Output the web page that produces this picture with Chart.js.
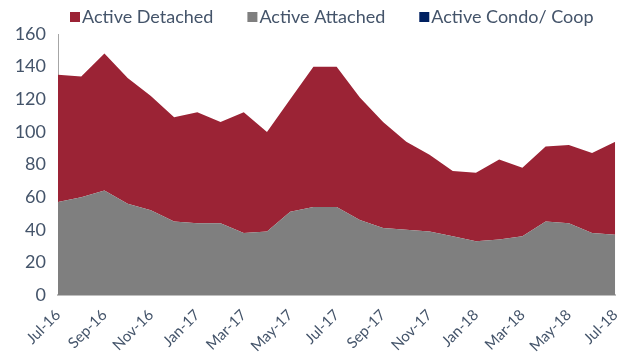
<!DOCTYPE html>
<html>
<head>
<meta charset="utf-8">
<script src="https://cdn.jsdelivr.net/npm/chart.js@4"></script>
<style>
  html, body { margin: 0; padding: 0; background: #fff; }
  #wrap { width: 631px; height: 353px; }
</style>
</head>
<body>
<div id="wrap"><canvas id="inventoryChart" width="631" height="353"></canvas></div>
<script>
const months = ['Jul-16', 'Aug-16', 'Sep-16', 'Oct-16', 'Nov-16', 'Dec-16', 'Jan-17', 'Feb-17', 'Mar-17',
    'Apr-17', 'May-17', 'Jun-17', 'Jul-17', 'Aug-17', 'Sep-17', 'Oct-17', 'Nov-17', 'Dec-17',
    'Jan-18', 'Feb-18', 'Mar-18', 'Apr-18', 'May-18', 'Jun-18', 'Jul-18'];
const attached = [57, 60, 64, 56, 52, 45, 44, 44, 38, 39, 51, 54, 54, 46, 41, 40, 39, 36, 33, 34, 36, 45, 44, 38, 37];
const detached = [78, 74, 84, 77, 70, 64, 68, 62, 74, 61, 69, 86, 86, 75, 65, 54, 47, 40, 42, 49, 42, 46, 48, 49, 57];
const condo = [0, 0, 0, 0, 0, 0, 0, 0, 0, 0, 0, 0, 0, 0, 0, 0, 0, 0, 0, 0, 0, 0, 0, 0, 0];
const legendOrder = ['Active Detached', 'Active Attached', 'Active Condo/ Coop'];

const textColor = '#44546a';
const fontFamily = 'Lato, Roboto, sans-serif';

// legend drawn by hand: square marker right against the text, wide gaps between items
const legendPlugin = {
    id: 'squareLegend',
    afterDraw(chart) {
        const c = chart.ctx;
        const items = legendOrder.map(name => chart.data.datasets.find(d => d.label === name));
        c.save();
        c.font = '18px ' + fontFamily;
        c.textBaseline = 'middle';
        let x = 70;
        const y = 17;
        items.forEach(ds => {
            c.fillStyle = ds.backgroundColor;
            c.fillRect(x, y - 5, 10, 10);
            c.fillStyle = textColor;
            c.fillText(ds.label, x + 12, y);
            x += 12 + c.measureText(ds.label).width + 34;
        });
        c.restore();
    }
};

document.addEventListener('DOMContentLoaded', function() {
    const ctx = document.getElementById('inventoryChart');

    new Chart(ctx, {
        type: 'line',
        data: {
            labels: months,
            datasets: [{
                label: 'Active Attached',
                data: attached,
                backgroundColor: '#7f7f7f',
                borderWidth: 0,
                pointRadius: 0,
                fill: 'origin'
            }, {
                label: 'Active Detached',
                data: detached,
                backgroundColor: '#9b2335',
                borderWidth: 0,
                pointRadius: 0,
                fill: '-1'
            }, {
                label: 'Active Condo/ Coop',
                data: condo,
                backgroundColor: '#002060',
                borderWidth: 0,
                pointRadius: 0,
                fill: '-1'
            }]
        },
        options: {
            responsive: false,
            animation: false,
            layout: {
                padding: { left: 0, right: 14, top: 34, bottom: 0 }
            },
            scales: {
                y: {
                    stacked: true,
                    min: 0,
                    max: 160,
                    grid: { display: false, drawTicks: false },
                    border: { display: true, color: '#a6a6a6', width: 1 },
                    afterFit: function(scale) { scale.width = 58; },
                    ticks: {
                        stepSize: 20,
                        color: textColor,
                        padding: 12,
                        font: { family: fontFamily, size: 18 }
                    }
                },
                x: {
                    grid: { display: false },
                    border: { display: true, color: '#bfbfbf', width: 2 },
                    afterFit: function(scale) { scale.height = 58; },
                    ticks: {
                        autoSkip: false,
                        maxRotation: 45,
                        minRotation: 45,
                        color: textColor,
                        font: { family: fontFamily, size: 15 },
                        callback: function(value, index) {
                            return index % 2 === 0 ? months[index] : '';
                        }
                    }
                }
            },
            plugins: {
                legend: { display: false },
                tooltip: { enabled: false }
            }
        },
        plugins: [legendPlugin]
    });
});
</script>
</body>
</html>
